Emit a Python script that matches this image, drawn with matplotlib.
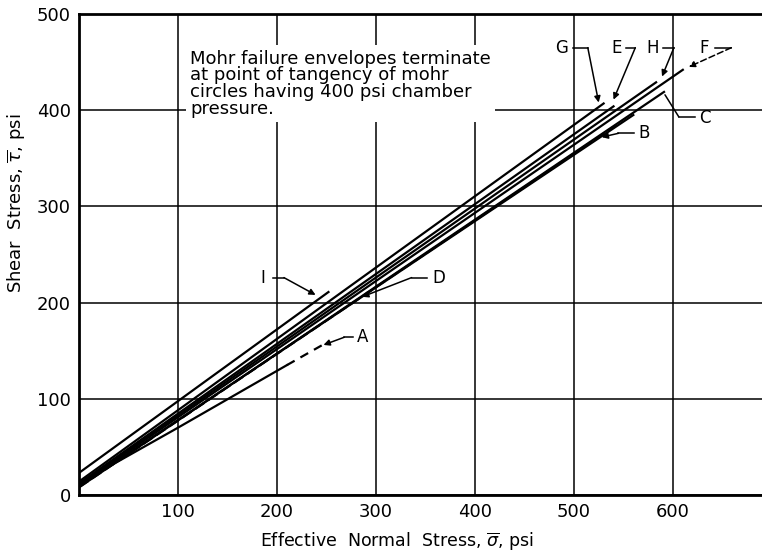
import matplotlib
matplotlib.use('Agg')
import matplotlib.pyplot as plt
import numpy as np

# envelope lines (sigma, tau in psi)
A_x = [0, 100, 210]
A_y = [12, 70, 135]
A_dash_x = [210, 246]
A_dash_y = [135, 156]
I_x = [0, 252]
I_y = [23, 211]
G_x = [0, 530]
G_y = [14, 407]
E_x = [0, 540]
E_y = [12, 404]
H_x = [0, 583]
H_y = [11, 429]
F_x = [0, 610]
F_y = [10, 442]
C_x = [0, 591]
C_y = [8, 419]
B_x = [0, 560]
B_y = [9, 395]
D_x = [0, 545]
D_y = [8, 386]

xticks = [100, 200, 300, 400, 500, 600]
yticks = [0, 100, 200, 300, 400, 500]

fig = plt.figure(figsize=(7.62, 5.56), dpi=100)
ax = fig.add_axes([0.1037, 0.1097, 0.8963, 0.8651])

lw = 1.6
ax.plot(A_x, A_y, color='black', lw=lw)
ax.plot(A_dash_x, A_dash_y, color='black', lw=lw, linestyle=(0, (4, 3)))
for xs, ys in [(I_x, I_y), (G_x, G_y), (E_x, E_y), (H_x, H_y),
               (F_x, F_y), (C_x, C_y), (B_x, B_y)]:
    ax.plot(xs, ys, color='black', lw=lw)
ax.plot(D_x, D_y, color='black', lw=lw, linestyle=(0, (5, 2)))

ax.set_xlim(0, 690)
ax.set_ylim(0, 500)
ax.set_xticks(xticks)
ax.set_yticks(yticks)
ax.tick_params(length=0, labelsize=13, pad=6)
ax.grid(True, color='black', lw=1.1)
ax.set_axisbelow(True)
for s in ['left', 'bottom', 'top']:
    ax.spines[s].set_linewidth(2)
ax.spines['right'].set_visible(False)

lab = dict(fontsize=12, color='black', va='center', ha='center')
arr = dict(arrowstyle='-|>', color='black', lw=1.1, mutation_scale=9, shrinkA=0, shrinkB=0)

def leader(label, lx, ly, stub, corner, tip, arrow=True, dashed=False):
    ax.text(lx, ly, label, **lab)
    ax.plot([stub[0], corner[0]], [stub[1], corner[1]], color='black', lw=1.1)
    p = dict(arr)
    if not arrow:
        p['arrowstyle'] = '-'
    if dashed:
        p['linestyle'] = (0, (4, 2))
    ax.annotate('', xy=tip, xytext=corner, arrowprops=p)

leader('G', 487, 465, (499, 465), (514, 465), (525, 408))
leader('E', 543, 465, (553, 465), (562, 465), (540, 411))
leader('H', 580, 465, (590, 465), (601, 465), (589, 435))
leader('F', 632, 465, (643, 465), (659, 465), (616, 445), dashed=True)
leader('C', 632, 392, (622, 393), (606, 393), (592, 416), arrow=False)
leader('B', 571, 376, (561, 376), (545, 376), (528, 372))
leader('D', 363, 226, (352, 226), (336, 226), (286, 206))
leader('I', 186, 226, (196, 226), (207, 226), (239, 208))
leader('A', 286, 164, (277, 164), (268, 164), (247, 156))

ax.text(112, 463, 'Mohr failure envelopes terminate\nat point of tangency of mohr\n'
        'circles having 400 psi chamber\npressure.',
        fontsize=13, va='top', ha='left', linespacing=0.92,
        bbox=dict(facecolor='white', edgecolor='none', pad=3))

fig.text(0.521, 0.026, r'Effective  Normal  Stress, $\overline{\sigma}$, psi',
         fontsize=12.5, ha='center', va='center')
fig.text(0.022, 0.635, r'Shear  Stress, $\overline{\tau}$, psi',
         fontsize=13, ha='center', va='center', rotation=90)

fig.savefig('out.png', dpi=100)
